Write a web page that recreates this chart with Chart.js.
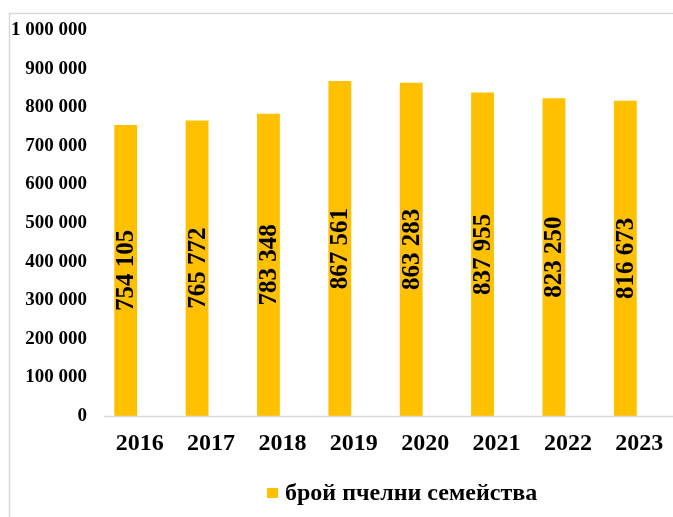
<!DOCTYPE html>
<html>
<head>
<meta charset="utf-8">
<script src="https://cdn.jsdelivr.net/npm/chart.js@4"></script>
<style>
  html, body { margin: 0; padding: 0; background: #fff; }
  #wrap { width: 673px; height: 517px; position: relative; }
</style>
</head>
<body>
<div id="wrap"><canvas id="myChart"></canvas></div>
<script>
const years = ['2016', '2017', '2018', '2019', '2020', '2021', '2022', '2023'];
const colonies = [754105, 765772, 783348, 867561, 863283, 837955, 823250, 816673];
const seriesName = 'брой пчелни семейства';

const serif = "'Liberation Serif', 'Times New Roman', serif";
const barColor = '#FFC000';

function spaced(v) {
  return v.toString().replace(/\B(?=(\d{3})+(?!\d))/g, ' ');
}

// grey frame, x axis line, rotated value labels and the legend
const extras = {
  id: 'extras',
  beforeDraw(chart) {
    const ctx = chart.ctx;
    ctx.save();
    ctx.strokeStyle = '#d9d9d9';
    ctx.lineWidth = 1.5;
    ctx.strokeRect(9.5, 13.5, chart.width + 20, chart.height + 20);
    ctx.restore();
  },
  afterDatasetsDraw(chart) {
    const ctx = chart.ctx;
    const area = chart.chartArea;
    ctx.save();
    ctx.strokeStyle = '#d9d9d9';
    ctx.lineWidth = 1.5;
    ctx.beginPath();
    ctx.moveTo(104, area.bottom + 0.5);
    ctx.lineTo(chart.width, area.bottom + 0.5);
    ctx.stroke();

    const meta = chart.getDatasetMeta(0);
    ctx.fillStyle = '#000';
    ctx.font = 'bold 25px ' + serif;
    ctx.textAlign = 'center';
    ctx.textBaseline = 'middle';
    meta.data.forEach((bar, i) => {
      const cy = (bar.y + bar.base) / 2;
      ctx.save();
      ctx.translate(bar.x + 1, cy);
      ctx.rotate(-Math.PI / 2);
      ctx.fillText(spaced(colonies[i]), 0, 0);
      ctx.restore();
    });

    // legend
    ctx.fillStyle = barColor;
    ctx.fillRect(267, 488, 11, 10);
    ctx.fillStyle = '#000';
    ctx.font = 'bold 24px ' + serif;
    ctx.textAlign = 'left';
    ctx.fillText(chart.data.datasets[0].label, 285, 494);
    ctx.restore();
  }
};

const data = {
  labels: years,
  datasets: [{
    label: seriesName,
    data: colonies,
    backgroundColor: barColor,
    borderWidth: 0,
    barPercentage: 0.32,
    categoryPercentage: 1
  }]
};

const config = {
  type: 'bar',
  data: data,
  plugins: [extras],
  options: {
    responsive: true,
    maintainAspectRatio: false,
    animation: false,
    layout: { padding: { left: 0, right: 12, top: 30, bottom: 54 } },
    plugins: {
      tooltip: { enabled: false },
      legend: { display: false }
    },
    scales: {
      x: {
        grid: { display: false, drawTicks: false },
        border: { display: false },
        ticks: {
          color: '#000',
          font: { family: serif, size: 24, weight: 'bold' },
          padding: 13,
          labelOffset: 14,
          maxRotation: 0
        },
        afterFit(scale) { scale.height = 47; }
      },
      y: {
        min: 0,
        max: 1000000,
        grid: { display: false, drawTicks: false },
        border: { display: false },
        ticks: {
          stepSize: 100000,
          color: '#000',
          font: { family: serif, size: 19, weight: 'bold' },
          padding: 3,
          callback: v => spaced(v)
        },
        afterFit(scale) { scale.width = 90; }
      }
    }
  }
};

const myChart = new Chart(document.getElementById('myChart'), config);
</script>
</body>
</html>
